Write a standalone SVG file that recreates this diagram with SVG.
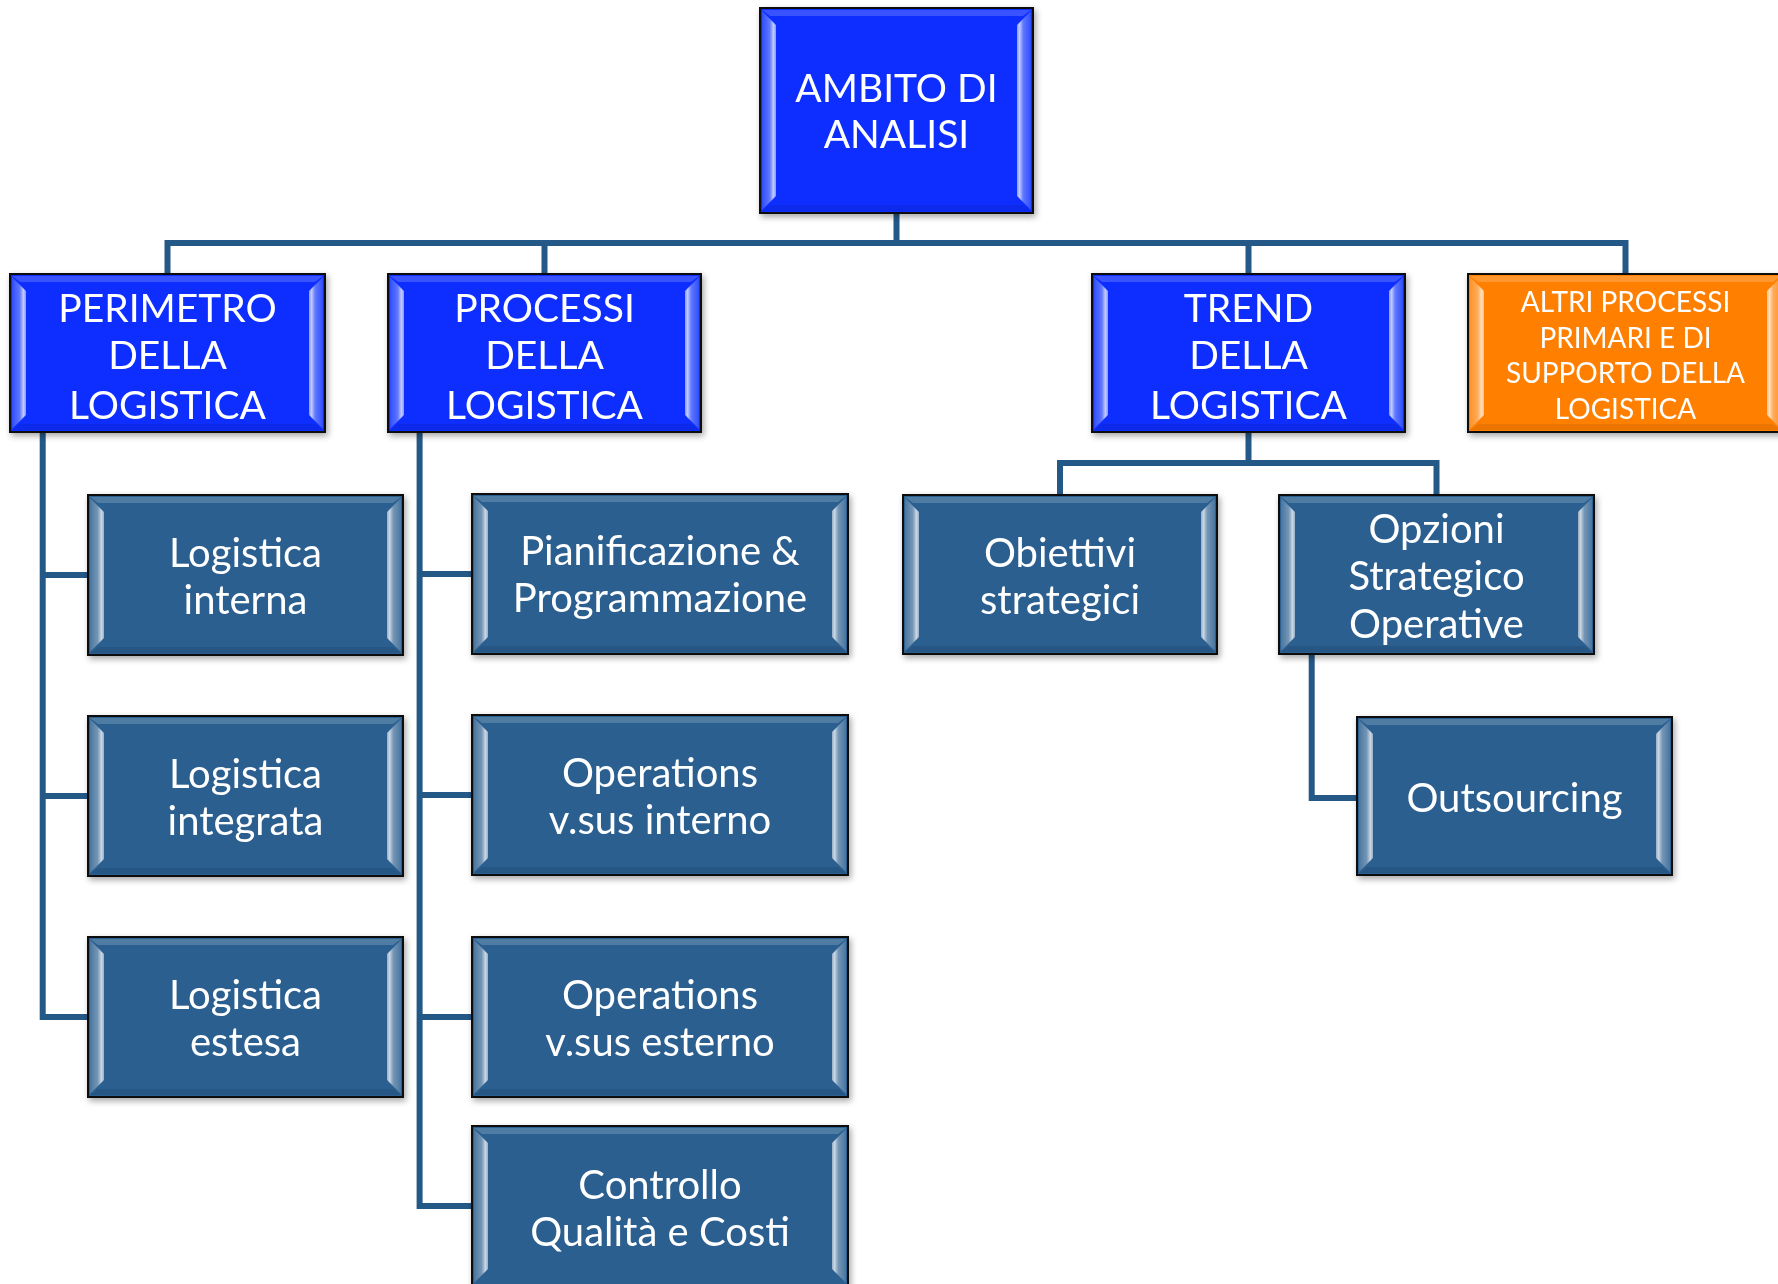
<svg xmlns="http://www.w3.org/2000/svg" width="1778" height="1284" viewBox="0 0 1778 1284">
<defs>
<style>
.box{stroke:#111;stroke-width:2}
.blue{fill:#0B2EFF}
.dark{fill:#2A5E8F}
.orange{fill:#FF7F00}
.bl{fill:url(#bevL)}
.br{fill:url(#bevR)}
.bt{fill:#fff;fill-opacity:0.18}
.bb{fill:#000;fill-opacity:0.08}
text{font-family:Lato,"Open Sans","Liberation Sans",sans-serif;fill:#fff;text-anchor:middle;font-size:39px}
text.md{font-size:40px}
text.sm{font-size:28px}
.conn{fill:none;stroke:#245887;stroke-width:6;stroke-linejoin:miter;stroke-linecap:butt}
</style>
<linearGradient id="bevL" x1="0" y1="0" x2="1" y2="0">
<stop offset="0" stop-color="#fff" stop-opacity="0.15"/>
<stop offset="0.55" stop-color="#fff" stop-opacity="0.35"/>
<stop offset="0.82" stop-color="#fff" stop-opacity="0.75"/>
<stop offset="1" stop-color="#fff" stop-opacity="0.5"/>
</linearGradient>
<linearGradient id="bevR" x1="1" y1="0" x2="0" y2="0">
<stop offset="0" stop-color="#fff" stop-opacity="0.15"/>
<stop offset="0.55" stop-color="#fff" stop-opacity="0.35"/>
<stop offset="0.82" stop-color="#fff" stop-opacity="0.75"/>
<stop offset="1" stop-color="#fff" stop-opacity="0.5"/>
</linearGradient>
<filter id="sh" x="-10%" y="-10%" width="125%" height="130%">
<feDropShadow dx="2" dy="3" stdDeviation="3" flood-color="#000" flood-opacity="0.35"/>
</filter>
</defs>
<rect width="1778" height="1284" fill="#fff"/>

<g id="connectors">
<path class="conn" d="M896.5,213 V243"/>
<path class="conn" d="M167.5,274 V243 H1625.5 V274"/>
<path class="conn" d="M544.5,243 V274"/>
<path class="conn" d="M1248.5,243 V274"/>
<path class="conn" d="M42.7,432 V1017 H88"/>
<path class="conn" d="M42.7,575 H88"/>
<path class="conn" d="M42.7,796 H88"/>
<path class="conn" d="M419.6,432 V1206 H472"/>
<path class="conn" d="M419.6,574 H472"/>
<path class="conn" d="M419.6,795 H472"/>
<path class="conn" d="M419.6,1017 H472"/>
<path class="conn" d="M1248.5,432 V463"/>
<path class="conn" d="M1060,495 V463 H1436.5 V495"/>
<path class="conn" d="M1311.7,654 V798 H1357"/>
</g>

<g id="root" filter="url(#sh)">
<rect class="box blue" x="760" y="8" width="273" height="205"/>
<path class="bt" d="M762,10 h269 l-8,6 h-253 z"/>
<path class="bb" d="M762,211 h269 l-8,-6 h-253 z"/>
<path class="bl" d="M762,11 l14,14 v171 l-14,14 z"/>
<path class="br" d="M1031,11 l-14,14 v171 l14,14 z"/>
<text x="896.5" y="101.7">AMBITO DI</text>
<text x="896.5" y="148.3">ANALISI</text>
</g>

<g id="perimetro" filter="url(#sh)">
<rect class="box blue" x="10" y="274" width="315" height="158"/>
<path class="bt" d="M12,276 h311 l-8,6 h-295 z"/>
<path class="bb" d="M12,430 h311 l-8,-6 h-295 z"/>
<path class="bl" d="M12,277 l14,14 v124 l-14,14 z"/>
<path class="br" d="M323,277 l-14,14 v124 l14,14 z"/>
<text x="167.5" y="322">PERIMETRO</text>
<text x="167.5" y="369">DELLA</text>
<text x="167.5" y="419">LOGISTICA</text>
</g>

<g id="processi" filter="url(#sh)">
<rect class="box blue" x="388" y="274" width="313" height="158"/>
<path class="bt" d="M390,276 h309 l-8,6 h-293 z"/>
<path class="bb" d="M390,430 h309 l-8,-6 h-293 z"/>
<path class="bl" d="M390,277 l14,14 v124 l-14,14 z"/>
<path class="br" d="M699,277 l-14,14 v124 l14,14 z"/>
<text x="544.5" y="322">PROCESSI</text>
<text x="544.5" y="369">DELLA</text>
<text x="544.5" y="419">LOGISTICA</text>
</g>

<g id="trend" filter="url(#sh)">
<rect class="box blue" x="1092" y="274" width="313" height="158"/>
<path class="bt" d="M1094,276 h309 l-8,6 h-293 z"/>
<path class="bb" d="M1094,430 h309 l-8,-6 h-293 z"/>
<path class="bl" d="M1094,277 l14,14 v124 l-14,14 z"/>
<path class="br" d="M1403,277 l-14,14 v124 l14,14 z"/>
<text x="1248.5" y="322">TREND</text>
<text x="1248.5" y="369">DELLA</text>
<text x="1248.5" y="419">LOGISTICA</text>
</g>

<g id="altri" filter="url(#sh)">
<rect class="box orange" x="1468" y="274" width="315" height="158"/>
<path class="bt" d="M1470,276 h311 l-8,6 h-295 z"/>
<path class="bb" d="M1470,430 h311 l-8,-6 h-295 z"/>
<path class="bl" d="M1470,277 l14,14 v124 l-14,14 z"/>
<path class="br" d="M1781,277 l-14,14 v124 l14,14 z"/>
<text class="sm" x="1625.5" y="312">ALTRI PROCESSI</text>
<text class="sm" x="1625.5" y="347.5">PRIMARI E DI</text>
<text class="sm" x="1625.5" y="383">SUPPORTO DELLA</text>
<text class="sm" x="1625.5" y="418.5">LOGISTICA</text>
</g>

<g id="log-interna" filter="url(#sh)">
<rect class="box dark" x="88" y="495" width="315" height="160"/>
<path class="bt" d="M90,497 h311 l-8,6 h-295 z"/>
<path class="bb" d="M90,653 h311 l-8,-6 h-295 z"/>
<path class="bl" d="M90,498 l14,14 v126 l-14,14 z"/>
<path class="br" d="M401,498 l-14,14 v126 l14,14 z"/>
<text class="md" x="245.5" y="567">Logistica</text>
<text class="md" x="245.5" y="613.5">interna</text>
</g>

<g id="log-integrata" filter="url(#sh)">
<rect class="box dark" x="88" y="716" width="315" height="160"/>
<path class="bt" d="M90,718 h311 l-8,6 h-295 z"/>
<path class="bb" d="M90,874 h311 l-8,-6 h-295 z"/>
<path class="bl" d="M90,719 l14,14 v126 l-14,14 z"/>
<path class="br" d="M401,719 l-14,14 v126 l14,14 z"/>
<text class="md" x="245.5" y="788">Logistica</text>
<text class="md" x="245.5" y="834.5">integrata</text>
</g>

<g id="log-estesa" filter="url(#sh)">
<rect class="box dark" x="88" y="937" width="315" height="160"/>
<path class="bt" d="M90,939 h311 l-8,6 h-295 z"/>
<path class="bb" d="M90,1095 h311 l-8,-6 h-295 z"/>
<path class="bl" d="M90,940 l14,14 v126 l-14,14 z"/>
<path class="br" d="M401,940 l-14,14 v126 l14,14 z"/>
<text class="md" x="245.5" y="1009">Logistica</text>
<text class="md" x="245.5" y="1055.5">estesa</text>
</g>

<g id="pianificazione" filter="url(#sh)">
<rect class="box dark" x="472" y="494" width="376" height="160"/>
<path class="bt" d="M474,496 h372 l-8,6 h-356 z"/>
<path class="bb" d="M474,652 h372 l-8,-6 h-356 z"/>
<path class="bl" d="M474,497 l14,14 v126 l-14,14 z"/>
<path class="br" d="M846,497 l-14,14 v126 l14,14 z"/>
<text class="md" x="660" y="565">Pianificazione &amp;</text>
<text class="md" x="660" y="611.5">Programmazione</text>
</g>

<g id="op-interno" filter="url(#sh)">
<rect class="box dark" x="472" y="715" width="376" height="160"/>
<path class="bt" d="M474,717 h372 l-8,6 h-356 z"/>
<path class="bb" d="M474,873 h372 l-8,-6 h-356 z"/>
<path class="bl" d="M474,718 l14,14 v126 l-14,14 z"/>
<path class="br" d="M846,718 l-14,14 v126 l14,14 z"/>
<text class="md" x="660" y="787">Operations</text>
<text class="md" x="660" y="833.5">v.sus interno</text>
</g>

<g id="op-esterno" filter="url(#sh)">
<rect class="box dark" x="472" y="937" width="376" height="160"/>
<path class="bt" d="M474,939 h372 l-8,6 h-356 z"/>
<path class="bb" d="M474,1095 h372 l-8,-6 h-356 z"/>
<path class="bl" d="M474,940 l14,14 v126 l-14,14 z"/>
<path class="br" d="M846,940 l-14,14 v126 l14,14 z"/>
<text class="md" x="660" y="1009">Operations</text>
<text class="md" x="660" y="1055.5">v.sus esterno</text>
</g>

<g id="controllo" filter="url(#sh)">
<rect class="box dark" x="472" y="1126" width="376" height="160"/>
<path class="bt" d="M474,1128 h372 l-8,6 h-356 z"/>
<path class="bl" d="M474,1129 l14,14 v126 l-14,14 z"/>
<path class="br" d="M846,1129 l-14,14 v126 l14,14 z"/>
<text class="md" x="660" y="1199">Controllo</text>
<text class="md" x="660" y="1245.5">Qualità e Costi</text>
</g>

<g id="obiettivi" filter="url(#sh)">
<rect class="box dark" x="903" y="495" width="314" height="159"/>
<path class="bt" d="M905,497 h310 l-8,6 h-294 z"/>
<path class="bb" d="M905,652 h310 l-8,-6 h-294 z"/>
<path class="bl" d="M905,498 l14,14 v125 l-14,14 z"/>
<path class="br" d="M1215,498 l-14,14 v125 l14,14 z"/>
<text class="md" x="1060" y="567">Obiettivi</text>
<text class="md" x="1060" y="613.5">strategici</text>
</g>

<g id="opzioni" filter="url(#sh)">
<rect class="box dark" x="1279" y="495" width="315" height="159"/>
<path class="bt" d="M1281,497 h311 l-8,6 h-295 z"/>
<path class="bb" d="M1281,652 h311 l-8,-6 h-295 z"/>
<path class="bl" d="M1281,498 l14,14 v125 l-14,14 z"/>
<path class="br" d="M1592,498 l-14,14 v125 l14,14 z"/>
<text class="md" x="1436.5" y="543">Opzioni</text>
<text class="md" x="1436.5" y="590">Strategico</text>
<text class="md" x="1436.5" y="638">Operative</text>
</g>

<g id="outsourcing" filter="url(#sh)">
<rect class="box dark" x="1357" y="717" width="315" height="158"/>
<path class="bt" d="M1359,719 h311 l-8,6 h-295 z"/>
<path class="bb" d="M1359,873 h311 l-8,-6 h-295 z"/>
<path class="bl" d="M1359,720 l14,14 v124 l-14,14 z"/>
<path class="br" d="M1670,720 l-14,14 v124 l14,14 z"/>
<text class="md" x="1514.5" y="812">Outsourcing</text>
</g>
</svg>
